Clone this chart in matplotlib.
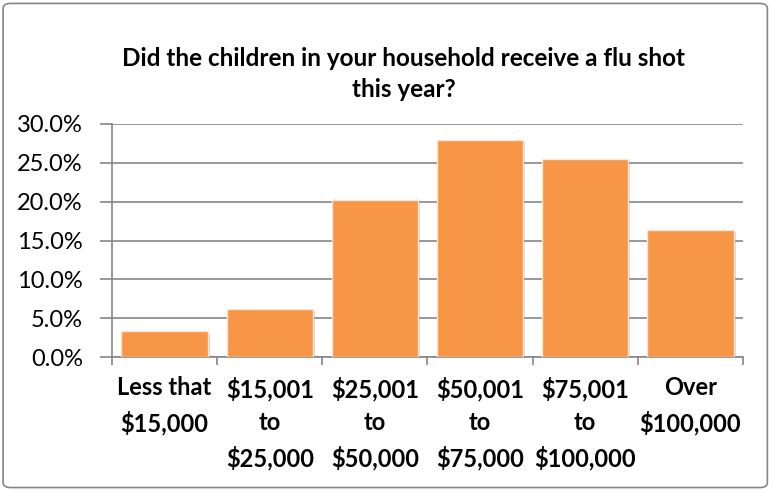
import matplotlib
matplotlib.use("Agg")
import matplotlib.pyplot as plt
import matplotlib.patheffects as pe
from matplotlib.patches import FancyBboxPatch
import numpy as np

# 数据
categories = ["Less that\n$15,000", "$15,001\nto\n$25,000", "$25,001\nto\n$50,000",
              "$50,001\nto\n$75,000", "$75,001\nto\n$100,000", "Over\n$100,000"]
values = [3.3, 6.2, 20.2, 27.9, 25.5, 16.3]
yticks = [0, 5, 10, 15, 20, 25, 30]
title = "Did the children in your household receive a flu shot\nthis year?"

plt.rcParams['font.family'] = ['Lato', 'DejaVu Sans']

fig = plt.figure(figsize=(7.72, 4.90), dpi=100)
ax = fig.add_axes([112 / 772, 1 - 357 / 490, 631 / 772, 233 / 490])

# 外框
fig.patches.append(FancyBboxPatch((0.004, 0.005), 0.99, 0.988,
                                  boxstyle="round,pad=0,rounding_size=0.01",
                                  transform=fig.transFigure, fill=False,
                                  edgecolor="#868686", linewidth=1.2))

x = np.arange(len(categories))
bars = ax.bar(x, values, width=0.82, color="#F79646", edgecolor="#FCE4D0",
              linewidth=1.0, zorder=3)
for b in bars:
    b.set_path_effects([pe.SimplePatchShadow(offset=(1.5, -1.5), alpha=0.18),
                        pe.Normal()])

ax.set_xlim(-0.5, len(categories) - 0.5)
ax.set_ylim(0, 30)
ax.set_yticks(yticks)
ax.set_yticklabels([f"{v:.1f}%" for v in yticks], fontsize=17)
ax.yaxis.grid(True, color="#868686", linewidth=1.2, zorder=0)
ax.tick_params(axis='y', length=9, color="#868686", width=1.2, pad=12)

ax.set_xticks(x)
ax.set_xticklabels(categories, fontsize=17, fontweight='bold', linespacing=1.55)
ax.tick_params(axis='x', which='major', length=0, pad=14)
ax.set_xticks(np.arange(-0.5, len(categories)), minor=True)
ax.tick_params(axis='x', which='minor', length=6, color="#868686", width=1.2)

for s in ['top', 'right']:
    ax.spines[s].set_visible(False)
for s in ['left', 'bottom']:
    ax.spines[s].set_color("#868686")
    ax.spines[s].set_linewidth(1.2)

fig.text(0.523, 0.849, title, ha='center', va='center', fontsize=17.5,
         fontweight='bold', linespacing=1.47)

fig.savefig("out.png", dpi=100)
